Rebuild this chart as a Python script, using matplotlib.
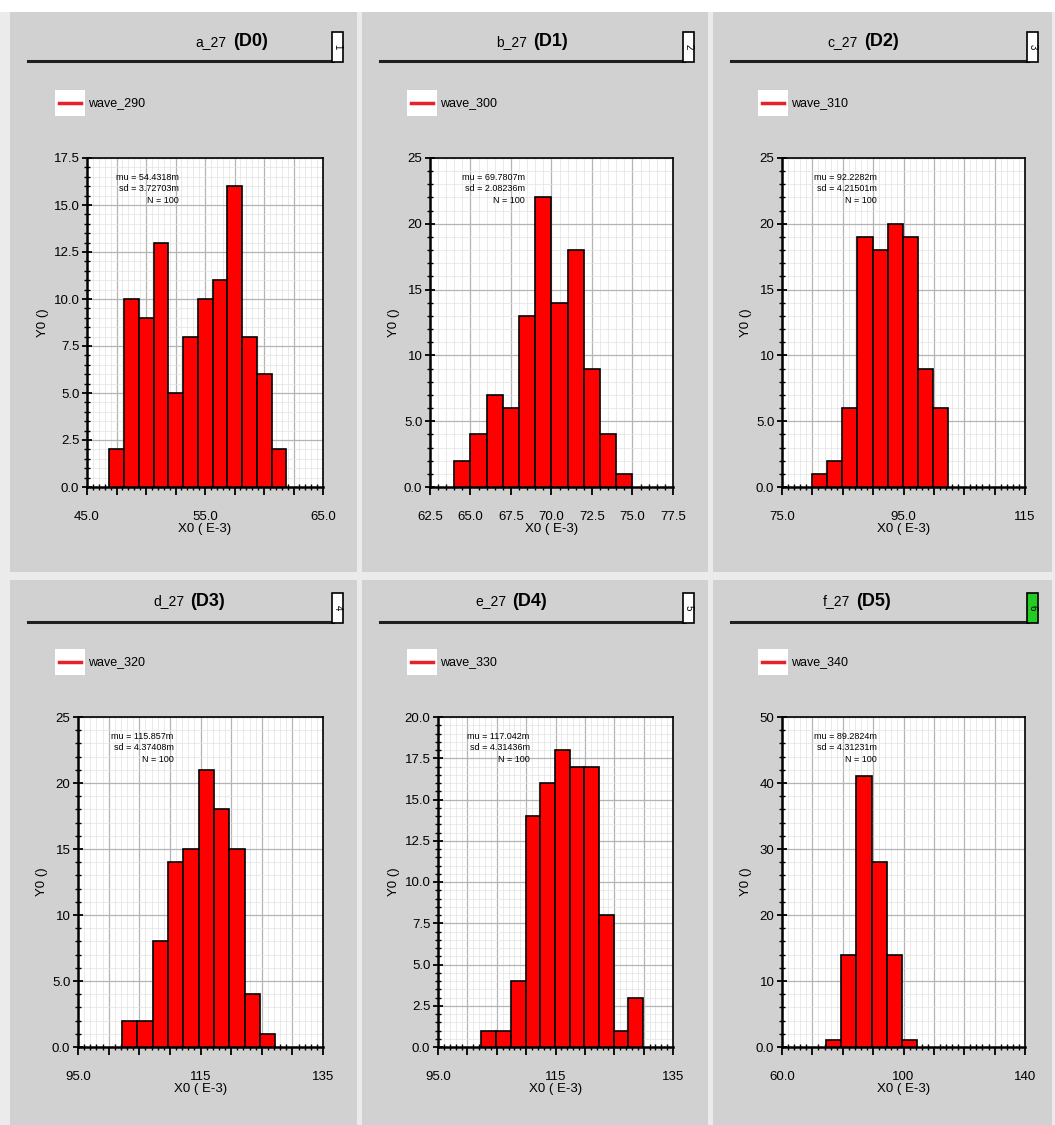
import matplotlib.pyplot as plt
from matplotlib.patches import Rectangle
from matplotlib.lines import Line2D
from matplotlib.ticker import MultipleLocator

W, H = 1055, 1125

# Data (six Monte Carlo histograms)
names = ["a_27", "b_27", "c_27", "d_27", "e_27", "f_27"]
tags = ["(D0)", "(D1)", "(D2)", "(D3)", "(D4)", "(D5)"]
waves = ["wave_290", "wave_300", "wave_310", "wave_320", "wave_330", "wave_340"]
mus = ["54.4318m", "69.7807m", "92.2282m", "115.857m", "117.042m", "89.2824m"]
sds = ["3.72703m", "2.08236m", "4.21501m", "4.37408m", "4.31436m", "4.31231m"]
n_samples = [100, 100, 100, 100, 100, 100]

counts_d0 = [2, 10, 9, 13, 5, 8, 10, 11, 16, 8, 6, 2]
counts_d1 = [2, 4, 7, 6, 13, 22, 14, 18, 9, 4, 1]
counts_d2 = [1, 2, 6, 19, 18, 20, 19, 9, 6]
counts_d3 = [2, 2, 8, 14, 15, 21, 18, 15, 4, 1]
counts_d4 = [1, 1, 4, 14, 16, 18, 17, 17, 8, 1, 3]
counts_d5 = [1, 14, 41, 28, 14, 1]
counts = [counts_d0, counts_d1, counts_d2, counts_d3, counts_d4, counts_d5]

bin_start = [46.9, 64.0, 79.9, 102.2, 102.4, 74.5]
bin_width = [1.25, 1.0, 2.5, 2.5, 2.5, 5.0]

x_ranges = [(45, 65), (62.5, 77.5), (75, 115), (95, 135), (95, 135), (60, 140)]
x_major = [2.5, 2.5, 5, 5, 5, 10]
x_minor = [0.5, 0.5, 1, 1, 1, 2]
x_labels = [
    {45: "45.0", 55: "55.0", 65: "65.0"},
    {62.5: "62.5", 65: "65.0", 67.5: "67.5", 70: "70.0", 72.5: "72.5", 75: "75.0", 77.5: "77.5"},
    {75: "75.0", 95: "95.0", 115: "115"},
    {95: "95.0", 115: "115", 135: "135"},
    {95: "95.0", 115: "115", 135: "135"},
    {60: "60.0", 100: "100", 140: "140"},
]
y_tops = [17.5, 25, 25, 25, 20, 50]
y_major = [2.5, 5, 5, 5, 2.5, 10]
y_minor = [0.5, 1, 1, 1, 0.5, 2]
y_labels = [
    ["0.0", "2.5", "5.0", "7.5", "10.0", "12.5", "15.0", "17.5"],
    ["0.0", "5.0", "10", "15", "20", "25"],
    ["0.0", "5.0", "10", "15", "20", "25"],
    ["0.0", "5.0", "10", "15", "20", "25"],
    ["0.0", "2.5", "5.0", "7.5", "10.0", "12.5", "15.0", "17.5", "20.0"],
    ["0.0", "10", "20", "30", "40", "50"],
]

# layout in pixels
cols = [(10, 357), (362, 708), (713, 1052)]
rows = [(12, 572), (580, 1125)]
ax_x = [(87, 323), (430, 673), (782, 1025), (78, 323), (438, 673), (782, 1025)]
ax_y = [(158, 487), (158, 487), (158, 487), (717, 1047), (717, 1047), (717, 1047)]
name_right = [227, 527, 858, 184, 506, 850]
line_y = [61, 61, 61, 622, 622, 622]
title_y = [42, 42, 42, 601, 601, 601]
legend_y = [103, 103, 103, 662, 662, 662]
box_colors = ["white", "white", "white", "white", "white", "#22cc22"]


def fx(px):
    return px / W


def fy(py):
    return 1 - py / H


plt.rcParams["font.family"] = ["Liberation Sans", "DejaVu Sans"]
fig = plt.figure(figsize=(W / 100, H / 100), dpi=100, facecolor="#ebebeb")
fig.patches.append(Rectangle((0, fy(12)), 1, 12 / H, transform=fig.transFigure,
                             facecolor="white", edgecolor="none", zorder=0))

for i in range(6):
    c0, c1 = cols[i % 3]
    r0, r1 = rows[i // 3]
    fig.patches.append(Rectangle((fx(c0), fy(r1)), (c1 - c0) / W, (r1 - r0) / H,
                                 transform=fig.transFigure, facecolor="#d1d1d1",
                                 edgecolor="none", zorder=0))

    # header: name, tag, underline and number box
    fig.text(fx(name_right[i]), fy(title_y[i]), names[i], ha="right", va="center",
             fontsize=10, color="black")
    fig.text(fx(name_right[i] + 6), fy(title_y[i]), tags[i], ha="left", va="center",
             fontsize=13, fontweight="bold", color="black")
    fig.lines.append(Line2D([fx(c0 + 18), fx(c1 - 24)], [fy(line_y[i])] * 2,
                            transform=fig.transFigure, color="#202020", lw=2.2))
    fig.patches.append(Rectangle((fx(c1 - 25), fy(line_y[i] + 1)), 11 / W, 30 / H,
                                 transform=fig.transFigure, facecolor=box_colors[i],
                                 edgecolor="black", lw=1.2, zorder=3))
    fig.text(fx(c1 - 19.5), fy(line_y[i] - 14), str(i + 1), ha="center", va="center",
             fontsize=7, rotation=270, color="black", zorder=4)

    # legend entry
    ly = legend_y[i]
    fig.patches.append(Rectangle((fx(c0 + 45), fy(ly + 13)), 30 / W, 26 / H,
                                 transform=fig.transFigure, facecolor="white",
                                 edgecolor="none", zorder=2))
    fig.lines.append(Line2D([fx(c0 + 49), fx(c0 + 71)], [fy(ly)] * 2,
                            transform=fig.transFigure, color="#e8202a", lw=2.5, zorder=3))
    fig.text(fx(c0 + 78), fy(ly), waves[i], ha="left", va="center", fontsize=9,
             color="black")

    # histogram axes
    x0, x1 = ax_x[i]
    y0, y1 = ax_y[i]
    ax = fig.add_axes([fx(x0), fy(y1), (x1 - x0) / W, (y1 - y0) / H])
    ax.set_zorder(5)
    ax.set_facecolor("white")
    lefts = [bin_start[i] + k * bin_width[i] for k in range(len(counts[i]))]
    ax.bar(lefts, counts[i], width=bin_width[i], align="edge", color="#ff0000",
           edgecolor="black", linewidth=1.2, zorder=3)

    ax.set_xlim(*x_ranges[i])
    ax.set_ylim(0, y_tops[i])
    ax.xaxis.set_major_locator(MultipleLocator(x_major[i]))
    ax.xaxis.set_minor_locator(MultipleLocator(x_minor[i]))
    ax.yaxis.set_major_locator(MultipleLocator(y_major[i]))
    ax.yaxis.set_minor_locator(MultipleLocator(y_minor[i]))
    xt = ax.get_xticks()
    ax.set_xticks(xt, [x_labels[i].get(round(v, 2), "") for v in xt])
    ax.set_xlim(*x_ranges[i])
    ax.set_yticks([k * y_major[i] for k in range(len(y_labels[i]))], y_labels[i])
    ax.set_ylim(0, y_tops[i])

    ax.grid(which="major", color="#b4b4b4", lw=0.9, zorder=0)
    ax.grid(which="minor", color="#e2e2e2", lw=0.5, zorder=0)
    ax.set_axisbelow(True)
    ax.tick_params(which="major", direction="inout", length=7, width=1.3,
                   labelsize=9.5, pad=2)
    ax.tick_params(axis="x", which="major", direction="out", length=6, pad=11)
    ax.tick_params(which="minor", direction="inout", length=4, width=1.0)
    for side in ["top", "right"]:
        ax.spines[side].set_linewidth(1.2)
    for side in ["left", "bottom"]:
        ax.spines[side].set_linewidth(1.8)

    ax.set_xlabel("X0 ( E-3)", fontsize=9.5, labelpad=0)
    ax.set_ylabel("Y0 ()", fontsize=9.5, labelpad=3)

    stats = "mu = %s\nsd = %s\nN = %d" % (mus[i], sds[i], n_samples[i])
    ax.text(0.39, 0.955, stats, transform=ax.transAxes, ha="right", va="top",
            fontsize=6.5, linespacing=1.35, zorder=5)

plt.savefig("out.png", dpi=100, facecolor=fig.get_facecolor())
plt.close()
